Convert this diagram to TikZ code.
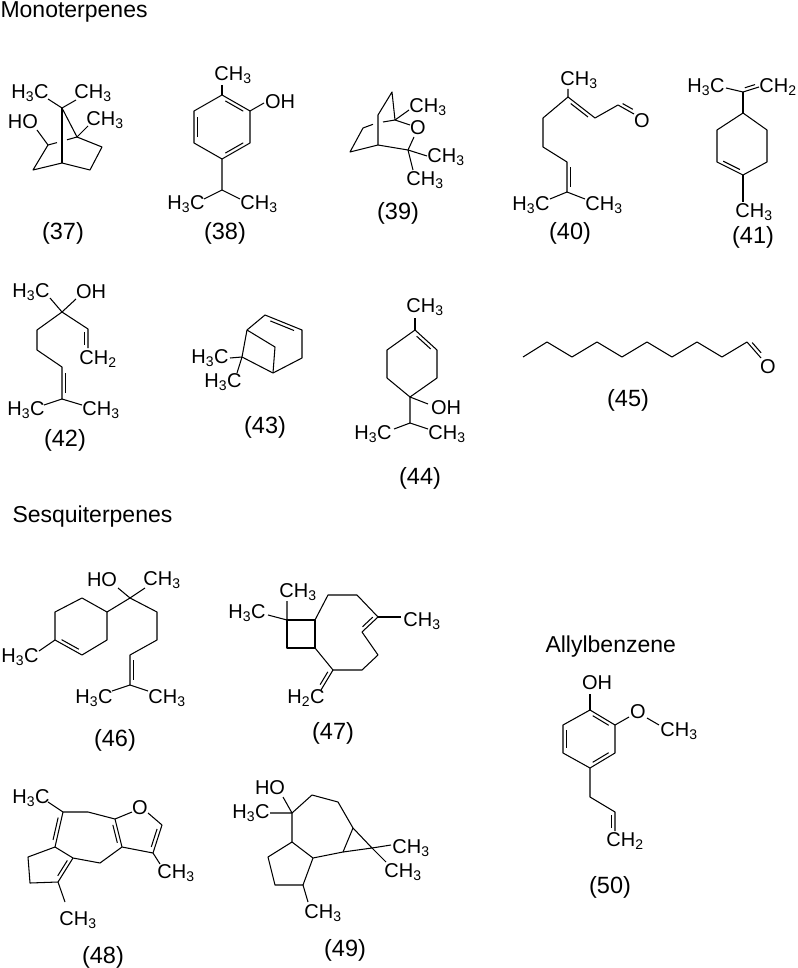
\documentclass[tikz,border=0pt]{standalone}
\usepackage{fontspec}
\setmainfont{Liberation Sans}
\usetikzlibrary{calc}
\newcommand\dbin[2]{\draw ($($(#1)!0.18!(#2)$)!3.5pt!270:(#2)$) -- ($($(#1)!0.82!(#2)$)!3.5pt!90:(#1)$);}
\newcommand\hh{H\textsubscript{3}C}
\newcommand\ch{CH\textsubscript{3}}
\newcommand\chh{CH\textsubscript{2}}
\newcommand\hhc{H\textsubscript{2}C}
\begin{document}
\begin{tikzpicture}[x=1pt,y=-1pt,line width=1.05pt,line join=round,
  atom/.style={font=\fontsize{20}{22}\selectfont,inner sep=0pt},
  lab/.style={font=\fontsize{23.5}{26}\selectfont,inner sep=0pt},
  head/.style={font=\fontsize{23}{25}\selectfont,inner sep=0pt,anchor=west}]
\useasboundingbox[fill=white] (0,0) rectangle (797,968);
\node[head] (h1) at (0,12) {Monoterpenes};
\node[head] (h2) at (12,517) {Sesquiterpenes};
\node[head] (h3) at (545,647) {Allylbenzene};
% 37
\node[atom] (a37a) at (30,93) {\hh};
\node[atom] (a37b) at (93,93) {\ch};
\node[atom] (a37c) at (23,122) {HO};
\node[atom] (a37d) at (105,120) {\ch};
\draw (48,99)--(62,108)--(76,100);
\draw (62,108)--(77,137)--(88,126);
\draw (62,108)--(62,163);
\draw (37,130)--(48,145)--(33,170)--(62,163)--(90,170)--(102,147)--(77,137);
\draw (48,145)--(57,142.6); \draw (67,139.8)--(77,137);
\node[lab] (l37) at (63,233) {(37)};
% 38
\coordinate (t38) at (222,95); \coordinate (ur38) at (250,111); \coordinate (lr38) at (250,143);
\coordinate (b38) at (222,159); \coordinate (ll38) at (194,143); \coordinate (ul38) at (194,111);
\node[atom] (a38a) at (233,75) {\ch};
\node[atom] (a38b) at (280,102) {OH};
\node[atom] (a38c) at (186,204) {\hh};
\node[atom] (a38d) at (259,204) {\ch};
\draw (222,85)--(t38);
\draw (t38)--(ur38)--(lr38)--(b38)--(ll38)--(ul38)--cycle;
\draw (ur38)--(264,103);
\draw (b38)--(222,190)--(204,199); \draw (222,190)--(240,199);
\dbin{t38}{ur38} \dbin{lr38}{b38} \dbin{ll38}{ul38}
\node[lab] (l38) at (225,233) {(38)};
% 39
\coordinate (c139) at (395,120); \coordinate (c439) at (378,145);
\coordinate (tp39) at (392,92); \coordinate (m39) at (378,115);
\coordinate (p39) at (350,152); \coordinate (q39) at (363,128); \coordinate (c339) at (408,150);
\node[atom] (o39) at (418,128) {O};
\node[atom] (a39a) at (428,107) {\ch};
\node[atom] (a39b) at (446,157) {\ch};
\node[atom] (a39c) at (425,180) {\ch};
\draw (c139)--(tp39)--(m39)--(c439)--(p39)--(q39)--(373,124.3);
\draw (383,122)--(c139);
\draw (c139)--(410,125); \draw (414,137)--(c339)--(c439);
\draw (c139)--(409,110); \draw (c339)--(427,156); \draw (c339)--(413,170);
\node[lab] (l39) at (398,213) {(39)};
% 40
\coordinate (c340) at (568,97); \coordinate (c240) at (595,118); \coordinate (c140) at (618,105);
\coordinate (co40) at (634,114); \coordinate (c440) at (543,118); \coordinate (c540) at (543,147);
\coordinate (c640) at (567,162); \coordinate (c740) at (567,192);
\node[atom] (a40a) at (579,80) {\ch};
\node[atom] (o40) at (642,121) {O};
\node[atom] (a40b) at (531,205) {\hh};
\node[atom] (a40c) at (604,205) {\ch};
\draw (568,89)--(c340)--(c240)--(c140)--(co40);
\draw (c340)--(c440)--(c540)--(c640)--(c740)--(550,199); \draw (c740)--(585,199);
\dbin{c340}{c240} \dbin{co40}{c140} \dbin{c740}{c640}
\node[lab] (l40) at (570,233) {(40)};
% 41
\coordinate (a41) at (743,92); \coordinate (t41) at (743,113); \coordinate (ur41) at (767,130);
\coordinate (lr41) at (767,162); \coordinate (bt41) at (743,175); \coordinate (ll41) at (717,162);
\coordinate (ul41) at (717,130); \coordinate (e41) at (759,87);
\node[atom] (a41a) at (706,87) {\hh};
\node[atom] (a41b) at (778,87) {\chh};
\node[atom] (a41c) at (754,212) {\ch};
\draw (726,88)--(a41)--(e41); \draw (a41)--(t41);
\draw (t41)--(ur41)--(lr41)--(bt41)--(ll41)--(ul41)--cycle;
\draw (bt41)--(743,202);
\dbin{bt41}{ll41} \dbin{e41}{a41}
\node[lab] (l41) at (753,237) {(41)};
% 42
\coordinate (c342) at (62,312); \coordinate (v142) at (88,329); \coordinate (v242) at (88,348);
\coordinate (c442) at (37,330); \coordinate (c542) at (37,350); \coordinate (c642) at (62,367); \coordinate (c742) at (62,399);
\node[atom] (a42a) at (31,292) {\hh};
\node[atom] (a42b) at (91,292) {OH};
\node[atom] (a42c) at (98,359) {\chh};
\node[atom] (a42d) at (26,410) {\hh};
\node[atom] (a42e) at (101,410) {\ch};
\draw (50,298)--(c342)--(76,299);
\draw (c342)--(v142)--(v242);
\draw (c342)--(c442)--(c542)--(c642)--(c742)--(44,405); \draw (c742)--(82,405);
\dbin{v142}{v242} \dbin{c742}{c642}
\node[lab] (l42) at (65,440) {(42)};
% 43
\coordinate (c643) at (242,357); \coordinate (bl43) at (247,330); \coordinate (tp43) at (265,315);
\coordinate (r143) at (302,330); \coordinate (r243) at (302,358); \coordinate (br43) at (273,373); \coordinate (bg43) at (275,347);
\node[atom] (a43a) at (210,358) {\hh};
\node[atom] (a43b) at (223,382) {\hh};
\draw (c643)--(bl43)--(tp43)--(r143)--(r243)--(br43)--cycle;
\draw (bl43)--(bg43)--(br43);
\draw (230,358)--(c643)--(237,373);
\dbin{tp43}{r143}
\node[lab] (l43) at (265,427) {(43)};
% 44
\coordinate (t44) at (415,330); \coordinate (ur44) at (437,350); \coordinate (lr44) at (437,378);
\coordinate (b44) at (410,397); \coordinate (ll44) at (387,378); \coordinate (ul44) at (387,350);
\coordinate (ch44) at (410,423);
\node[atom] (a44a) at (425,307) {\ch};
\node[atom] (a44b) at (446,408) {OH};
\node[atom] (a44c) at (373,434) {\hh};
\node[atom] (a44d) at (447,434) {\ch};
\draw (415,318)--(t44);
\draw (t44)--(ur44)--(lr44)--(b44)--(ll44)--(ul44)--cycle;
\draw (b44)--(428,404);
\draw (b44)--(ch44)--(394,429); \draw (ch44)--(428,429);
\dbin{t44}{ur44}
\node[lab] (l44) at (420,478) {(44)};
% 45
\coordinate (z45) at (747,342); \coordinate (zo45) at (761,358);
\node[atom] (o45) at (768,367) {O};
\draw (523,357)--(547,342)--(572,357)--(597,342)--(622,357)--(647,342)--(672,357)--(697,342)--(722,357)--(z45)--(zo45);
\dbin{zo45}{z45}
\node[lab] (l45) at (628,400) {(45)};
% 46
\coordinate (c46) at (130,598);
\coordinate (t46) at (82,598); \coordinate (ur46) at (107,612); \coordinate (lr46) at (107,640);
\coordinate (b46) at (82,655); \coordinate (ll46) at (55,640); \coordinate (ul46) at (55,612);
\coordinate (s146) at (157,612); \coordinate (s246) at (157,640); \coordinate (s346) at (130,655); \coordinate (s446) at (130,685);
\node[atom] (a46a) at (102,580) {HO};
\node[atom] (a46b) at (162,580) {\ch};
\node[atom] (a46c) at (20,657) {\hh};
\node[atom] (a46d) at (94,698) {\hh};
\node[atom] (a46e) at (167,698) {\ch};
\draw (118,588)--(c46)--(145,588);
\draw (t46)--(ur46)--(lr46)--(b46)--(ll46)--(ul46)--cycle;
\draw (ll46)--(39,651);
\draw (ur46)--(c46)--(s146)--(s246)--(s346)--(s446)--(112,691); \draw (s446)--(148,691);
\dbin{b46}{ll46} \dbin{s446}{s346}
\node[lab] (l46) at (115,740) {(46)};
% 47
\coordinate (q47) at (287,620); \coordinate (k147) at (315,620); \coordinate (k247) at (315,648); \coordinate (k347) at (287,648);
\coordinate (r147) at (328,595); \coordinate (r247) at (357,595); \coordinate (r347) at (378,617);
\coordinate (r447) at (362,632); \coordinate (r547) at (378,655); \coordinate (r647) at (362,670); \coordinate (r747) at (333,670);
\coordinate (m47) at (321,690);
\node[atom] (a47a) at (298,592) {\ch};
\node[atom] (a47b) at (247,613) {\hh};
\node[atom] (a47c) at (422,621) {\ch};
\node[atom] (a47d) at (306,698) {\hhc};
\draw (287,601)--(q47)--(268,615);
\draw (q47)--(k147)--(k247)--(k347)--cycle;
\draw (k147)--(r147)--(r247)--(r347)--(r447)--(r547)--(r647)--(r747)--(k247);
\draw (r347)--(401,617);
\draw (r747)--(m47);
\dbin{r347}{r447} \dbin{r747}{m47}
\node[lab] (l47) at (333,733) {(47)};
% 48
\coordinate (ca48) at (63,812); \coordinate (cb48) at (88,812); \coordinate (cc48) at (115,819);
\coordinate (co148) at (132,812); \coordinate (co248) at (148,813);
\coordinate (ch48) at (162,825); \coordinate (cm48) at (153,853); \coordinate (cn48) at (122,847);
\coordinate (cp48) at (100,863); \coordinate (ce48) at (73,858); \coordinate (cd48) at (55,847);
\coordinate (g148) at (28,857); \coordinate (g248) at (30,883); \coordinate (cf48) at (58,882);
\node[atom] (a48a) at (31,798) {\hh};
\node[atom] (o48) at (140,808) {O};
\node[atom] (a48b) at (176,873) {\ch};
\node[atom] (a48c) at (78,920) {\ch};
\draw (48,802)--(ca48)--(cb48)--(cc48)--(co148);
\draw (co248)--(ch48)--(cm48)--(cn48)--(cc48);
\draw (cm48)--(160,864);
\draw (cn48)--(cp48)--(ce48)--(cd48)--(ca48);
\draw (cd48)--(g148)--(g248)--(cf48)--(ce48);
\draw (cf48)--(65,902);
\dbin{cc48}{cn48} \dbin{ch48}{cm48} \dbin{ca48}{cd48} \dbin{ce48}{cf48}
\node[lab] (l48) at (103,957) {(48)};
% 49
\coordinate (c49) at (292,813); \coordinate (r149) at (312,795); \coordinate (r249) at (338,802);
\coordinate (r349) at (353,828); \coordinate (r449) at (343,852); \coordinate (r549) at (313,858); \coordinate (r649) at (292,842);
\coordinate (cp49) at (372,848);
\coordinate (f149) at (268,857); \coordinate (f249) at (275,885); \coordinate (f349) at (303,885);
\node[atom] (a49a) at (270,788) {HO};
\node[atom] (a49b) at (251,813) {\hh};
\node[atom] (a49c) at (411,848) {\ch};
\node[atom] (a49d) at (403,872) {\ch};
\node[atom] (a49e) at (323,913) {\ch};
\draw (283,797)--(c49)--(270,813);
\draw (c49)--(r149)--(r249)--(r349)--(r449)--(r549)--(r649)--cycle;
\draw (r349)--(cp49)--(r449);
\draw (cp49)--(391,845); \draw (cp49)--(386,862);
\draw (r649)--(f149)--(f249)--(f349)--(r549);
\draw (f349)--(308,902);
\node[lab] (l49) at (345,950) {(49)};
% 50
\coordinate (t50) at (590,710); \coordinate (ur50) at (615,725); \coordinate (lr50) at (615,753);
\coordinate (b50) at (590,768); \coordinate (ll50) at (563,753); \coordinate (ul50) at (563,725);
\coordinate (d150) at (590,797); \coordinate (d250) at (615,812); \coordinate (d350) at (615,831);
\node[atom] (a50a) at (597,683) {OH};
\node[atom] (o50) at (638,712) {O};
\node[atom] (a50b) at (679,731) {\ch};
\node[atom] (a50c) at (625,841) {\chh};
\draw (590,694)--(t50);
\draw (t50)--(ur50)--(lr50)--(b50)--(ll50)--(ul50)--cycle;
\draw (ur50)--(629,717); \draw (647,718)--(659,725);
\draw (b50)--(d150)--(d250)--(d350);
\dbin{t50}{ur50} \dbin{lr50}{b50} \dbin{ll50}{ul50} \dbin{d250}{d350}
\node[lab] (l50) at (610,887) {(50)};
\end{tikzpicture}
\end{document}
